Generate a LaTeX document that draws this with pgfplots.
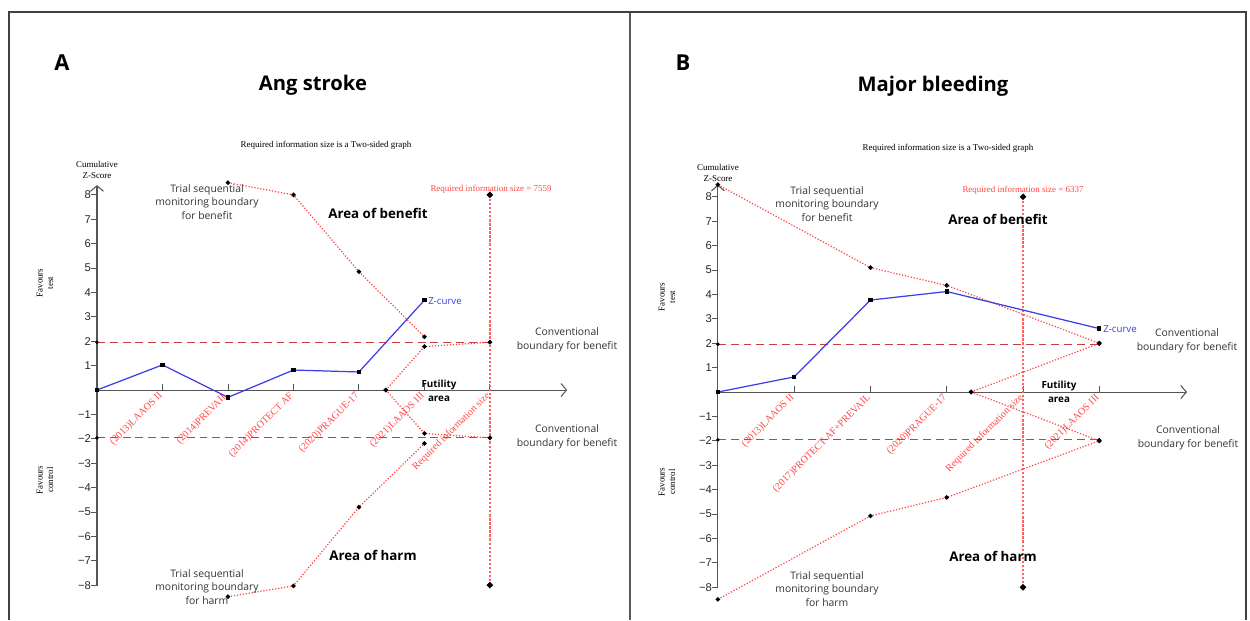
\documentclass[border=0pt]{standalone}
\usepackage{fontspec}
\setmainfont{Liberation Sans}
\newfontfamily\osans{Open Sans}
\newfontfamily\tnr{Liberation Serif}
\usepackage{pgfplots}
\pgfplotsset{compat=1.18}
\usetikzlibrary{arrows.meta}
\definecolor{tsared}{RGB}{255,70,70}
\definecolor{zblue}{RGB}{60,60,235}
\definecolor{convred}{RGB}{205,60,60}
\definecolor{axgray}{RGB}{85,85,85}
\newcommand\PX[2]{({(#1)*0.02cm},{(620-(#2))*0.02cm})}
\newcommand\annot{\osans\fontsize{5.9}{7.7}\selectfont}
\newcommand\area{\osans\bfseries\fontsize{7.6}{9}\selectfont}
\newcommand\tsafont{\tnr\fontsize{5.1}{6}\selectfont}
\pgfplotsset{
  tsa/.style={
    axis lines=middle, clip=false, xmin=0, ymin=-8.05,
    axis line style={axgray, line width=0.6pt, -{Straight Barb[length=1.1mm,width=2.6mm]}},
    ytick={-8,-7,-6,-5,-4,-3,-2,-1,1,2,3,4,5,6,7,8},
    yticklabels={−8,−7,−6,−5,−4,−3,−2,−1,1,2,3,4,5,6,7,8},
    yticklabel style={font=\fontsize{6.4}{7}\selectfont, text=black!85, inner sep=1.5pt},
    xticklabel style={font=\tnr\fontsize{5.7}{6}\selectfont, text=tsared, rotate=45, anchor=east, inner sep=1pt},
    major tick length=1.2mm,
    tick style={axgray, line width=0.5pt},
    xtick style={yshift=0.6mm}, ytick style={xshift=-0.6mm},
  },
  bnd/.style={tsared, densely dotted, line width=0.7pt, mark=*, mark size=0.9pt, mark options={solid, black}},
  zc/.style={zblue, line width=0.7pt, mark=square*, mark size=0.9pt, mark options={solid, black}},
  conv/.style={convred, dash pattern=on 4.5pt off 2.8pt, line width=0.7pt, mark=*, mark size=0.6pt, mark options={solid, black}},
  ris/.style={tsared!85, densely dotted, line width=1.3pt, mark=*, mark size=1pt, mark options={solid, black}},
}
\begin{document}
\begin{tikzpicture}
\path \PX{0}{0} rectangle \PX{1250}{620};
% frames
\draw[black!75, line width=1.1pt] \PX{9}{620} -- \PX{9}{12} -- \PX{1246}{12} -- \PX{1246}{620};
\draw[black!65, line width=1.1pt] \PX{630}{13} -- \PX{630}{620};

% ---------------- Panel A ----------------
\begin{axis}[tsa, x=1.31cm, y=0.488cm, xmax=7.18, ymax=8.4,
  at={(1.94cm,4.6cm)}, anchor=origin,
  xtick={1,2,3,4,5,6},
  xticklabels={{(2013)LAAOS II},{(2014)PREVAIL},{(2014)PROTECT AF},{(2020)PRAGUE-17},{(2021)LAAOS III},{Required information size}}]
\addplot[conv] coordinates {(0,1.96) (6,1.96)};
\addplot[conv] coordinates {(0,-1.96) (6,-1.96)};
\addplot[ris] coordinates {(6,-8) (6,8)};
\addplot[bnd] coordinates {(2,8.5) (3,8.0) (4,4.85) (5,2.18)};
\addplot[bnd] coordinates {(2,-8.47) (3,-8.03) (4,-4.8) (5,-2.19)};
\addplot[bnd] coordinates {(4.41,0) (5,1.78) (6,1.96)};
\addplot[bnd] coordinates {(4.41,0) (5,-1.78) (6,-1.96)};
\addplot[zc] coordinates {(0,0) (1,1.03) (2,-0.3) (3,0.82) (4,0.74) (5,3.68)};
\end{axis}

% ---------------- Panel B ----------------
\begin{axis}[tsa, x=1.526cm, y=0.488cm, xmax=6.15, ymax=8.5,
  at={(14.36cm,4.56cm)}, anchor=origin,
  xtick={1,2,3,4,5},
  xticklabels={{(2013)LAAOS II},{(2017)PROTECT AF+PREVAIL},{(2020)PRAGUE-17},{Required information size},{(2021)LAAOS III}}]
\addplot[conv] coordinates {(0,1.96) (5,1.96)};
\addplot[conv] coordinates {(0,-1.96) (5,-1.96)};
\addplot[ris] coordinates {(4,-8) (4,8)};
\addplot[bnd] coordinates {(0,8.5) (2,5.1) (3,4.37) (5,2.0)};
\addplot[bnd] coordinates {(0,-8.5) (2,-5.08) (3,-4.32) (5,-2.0)};
\addplot[bnd] coordinates {(3.32,0) (5,2.0)};
\addplot[bnd] coordinates {(3.32,0) (5,-2.0)};
\addplot[zc] coordinates {(0,0) (1,0.62) (2,3.77) (3,4.12) (5,2.6)};
\end{axis}

% ---------------- Texts A ----------------
\node[font=\osans\bfseries\fontsize{12.5}{14}\selectfont] at \PX{62}{63} {A};
\node[font=\osans\bfseries\fontsize{11.5}{14}\selectfont] at \PX{313}{85} {Ang stroke};
\node[font=\tsafont] at \PX{326}{145} {Required information size is a Two-sided graph};
\node[font=\tsafont, align=center] at \PX{97}{170} {Cumulative\\Z-Score};
\node[font=\tsafont, align=center, rotate=90] at \PX{45}{283} {Favours\\test};
\node[font=\tsafont, align=center, rotate=90] at \PX{45}{480} {Favours\\control};
\node[font=\tsafont, text=tsared] at \PX{491}{189} {Required information size = 7559};
\node[font=\area] at \PX{378}{213} {Area of benefit};
\node[font=\area] at \PX{373}{555} {Area of harm};
\node[font=\annot, align=center, text=black!80] at \PX{207}{202} {Trial sequential\\monitoring boundary\\for benefit};
\node[font=\annot, align=center, text=black!80] at \PX{207}{587} {Trial sequential\\monitoring boundary\\for harm};
\node[font=\annot, align=center, text=black!80] at \PX{567}{340} {Conventional\\boundary for benefit};
\node[font=\annot, align=center, text=black!80] at \PX{567}{437} {Conventional\\boundary for benefit};
\node[font=\osans\bfseries\fontsize{5.6}{7.7}\selectfont, align=center] at \PX{439}{391} {Futility\\area};
\node[font=\osans\fontsize{5.5}{7}\selectfont, text=zblue, anchor=west, inner sep=0pt] at \PX{428}{301} {Z-curve};

% ---------------- Texts B ----------------
\node[font=\osans\bfseries\fontsize{12.5}{14}\selectfont] at \PX{683}{63} {B};
\node[font=\osans\bfseries\fontsize{11.5}{14}\selectfont] at \PX{933}{86} {Major bleeding};
\node[font=\tsafont] at \PX{948}{148} {Required information size is a Two-sided graph};
\node[font=\tsafont, align=center] at \PX{718}{173} {Cumulative\\Z-Score};
\node[font=\tsafont, align=center, rotate=90] at \PX{667}{297} {Favours\\test};
\node[font=\tsafont, align=center, rotate=90] at \PX{667}{482} {Favours\\control};
\node[font=\tsafont, text=tsared] at \PX{1023}{190} {Required information size = 6337};
\node[font=\area] at \PX{998}{219} {Area of benefit};
\node[font=\area] at \PX{993}{556} {Area of harm};
\node[font=\annot, align=center, text=black!80] at \PX{827}{204} {Trial sequential\\monitoring boundary\\for benefit};
\node[font=\annot, align=center, text=black!80] at \PX{827}{589} {Trial sequential\\monitoring boundary\\for harm};
\node[font=\annot, align=center, text=black!80] at \PX{1187}{341} {Conventional\\boundary for benefit};
\node[font=\annot, align=center, text=black!80] at \PX{1188}{438} {Conventional\\boundary for benefit};
\node[font=\osans\bfseries\fontsize{5.6}{7.7}\selectfont, align=center] at \PX{1059}{392} {Futility\\area};
\node[font=\osans\fontsize{5.5}{7}\selectfont, text=zblue, anchor=west, inner sep=0pt] at \PX{1103}{329} {Z-curve};
\end{tikzpicture}
\end{document}
